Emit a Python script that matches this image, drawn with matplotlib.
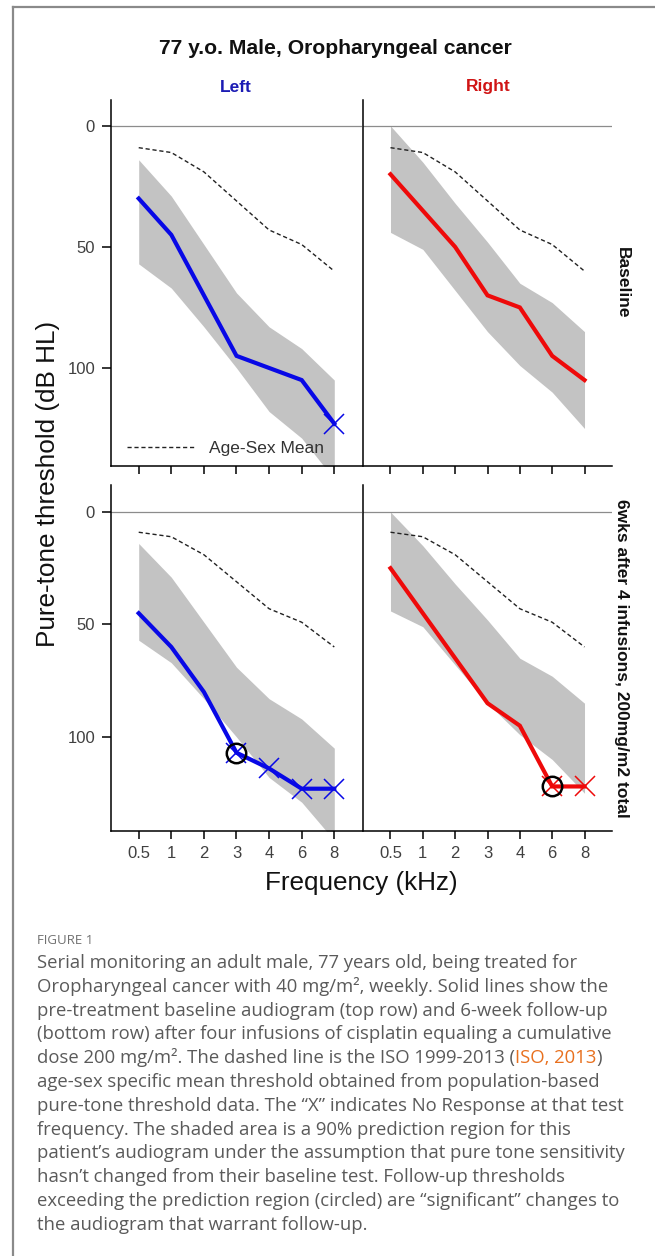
import matplotlib.pyplot as plt
from matplotlib.lines import Line2D

plt.rcParams["font.family"] = ["Liberation Sans", "DejaVu Sans"]

W, H = 655, 1256

# -----------------------------
# Data (dB HL)
# -----------------------------
freqs = ["0.5", "1", "2", "3", "4", "6", "8"]
age_sex_mean = [9, 11, 19, 31, 43, 49, 60]

# 90% prediction region (same for baseline and follow-up rows)
left_band_top = [14, 29, 49, 69, 83, 92, 105]
left_band_bottom = [57, 67, 83, 100, 118, 129, 146]
right_band_top = [0, 15, 32, 48, 65, 73, 85]
right_band_bottom = [44, 51, 68, 85, 99, 110, 125]

left_baseline = [30, 45, 70, 95, 100, 105, 123]
left_baseline_nr = [False, False, False, False, False, False, True]
right_baseline = [20, 35, 50, 70, 75, 95, 105]
right_baseline_nr = [False, False, False, False, False, False, False]

left_followup = [45, 60, 80, 107, 114, 123, 123]
left_followup_nr = [False, False, False, True, True, True, True]
left_followup_sig = [False, False, False, True, False, False, False]
right_followup = [25, 45, 65, 85, 95, 122, 122]
right_followup_nr = [False, False, False, False, False, True, True]
right_followup_sig = [False, False, False, False, False, True, False]

BLUE = "#0808e6"
RED = "#ee0a0a"
BAND = "#c3c3c3"


def box(x0, x1, y0, y1):
    return [x0 / W, 1 - y1 / H, (x1 - x0) / W, (y1 - y0) / H]


def draw_panel(ax, band_top, band_bottom, values, no_resp, sig, color, ylim,
               show_ylabels, show_xlabels):
    x = list(range(len(freqs)))
    ax.fill_between(x, band_top, band_bottom, color=BAND, lw=0, zorder=1)
    ax.axhline(0, color="#8c8c8c", lw=0.9, zorder=1)
    ax.plot(x, age_sex_mean, color="#222222", lw=1.0, ls=(0, (3, 2)), zorder=2,
            label="Age-Sex Mean")
    ax.plot(x, values, color=color, lw=3.0, zorder=3, solid_joinstyle="miter")
    nr_x = [xi for xi, f in zip(x, no_resp) if f]
    nr_y = [v for v, f in zip(values, no_resp) if f]
    ax.plot(nr_x, nr_y, ls="none", marker="x", ms=15, mew=1.1, color=color, zorder=4)
    sig_x = [xi for xi, f in zip(x, sig) if f]
    sig_y = [v for v, f in zip(values, sig) if f]
    ax.plot(sig_x, sig_y, ls="none", marker="o", ms=14, mfc="none", mec="black",
            mew=1.8, zorder=5)

    ax.set_xlim(-0.85, 6.85)
    ax.set_ylim(*ylim)
    ax.spines["top"].set_visible(False)
    ax.spines["right"].set_visible(False)
    ax.spines["left"].set_linewidth(1.1)
    ax.spines["bottom"].set_linewidth(1.1)
    ax.set_xticks(x)
    ax.set_xticklabels(freqs if show_xlabels else [])
    ax.tick_params(axis="x", length=6, width=1.1, pad=5, labelsize=12,
                   labelcolor="#404040")
    if show_ylabels:
        ax.set_yticks([0, 50, 100])
        ax.tick_params(axis="y", length=6.5, width=1.1, pad=5, labelsize=12,
                       labelcolor="#404040")
    else:
        ax.set_yticks([])


fig = plt.figure(figsize=(W / 100, H / 100), dpi=100)

top_ylim = (140.5, -10.7)
bot_ylim = (141.8, -12.0)

ax_tl = fig.add_axes(box(111, 362, 100, 466))
ax_tr = fig.add_axes(box(363, 612, 100, 466))
ax_bl = fig.add_axes(box(111, 362, 485, 831))
ax_br = fig.add_axes(box(363, 612, 485, 831))

draw_panel(ax_tl, left_band_top, left_band_bottom, left_baseline, left_baseline_nr,
           [False] * 7, BLUE, top_ylim, True, False)
draw_panel(ax_tr, right_band_top, right_band_bottom, right_baseline, right_baseline_nr,
           [False] * 7, RED, top_ylim, False, False)
draw_panel(ax_bl, left_band_top, left_band_bottom, left_followup, left_followup_nr,
           left_followup_sig, BLUE, bot_ylim, True, True)
draw_panel(ax_br, right_band_top, right_band_bottom, right_followup, right_followup_nr,
           right_followup_sig, RED, bot_ylim, False, True)

ax_tl.legend(loc="center left", bbox_to_anchor=(16 / 251, 1 - 348 / 366),
             frameon=False, borderpad=0, borderaxespad=0, handlelength=4.0,
             handletextpad=0.75, prop={"size": 12.5}, labelcolor="#333333")

# -----------------------------
# Chart texts
# -----------------------------
fig.text(335 / W, 1 - 48 / H, "77 y.o. Male, Oropharyngeal cancer", ha="center",
         va="center", fontsize=15.2, fontweight="bold", color="#111111")
fig.text(236 / W, 1 - 87 / H, "Left", ha="center", va="center", fontsize=12.5,
         fontweight="bold", color="#1c1cb4")
fig.text(488 / W, 1 - 87 / H, "Right", ha="center", va="center", fontsize=12.5,
         fontweight="bold", color="#d01414")
fig.text(622 / W, 1 - 283 / H, "Baseline", ha="center", va="center", rotation=-90,
         fontsize=12.5, fontweight="bold", color="#111111")
fig.text(621 / W, 1 - 658 / H, "6wks after 4 infusions, 200mg/m2 total", ha="center",
         va="center", rotation=-90, fontsize=12.5, fontweight="bold", color="#111111")
fig.text(48 / W, 1 - 484 / H, "Pure-tone threshold (dB HL)", ha="center", va="center",
         rotation=90, fontsize=18.8, color="#111111")
fig.text(361 / W, 1 - 883 / H, "Frequency (kHz)", ha="center", va="center",
         fontsize=18.8, color="#111111")

# -----------------------------
# Caption
# -----------------------------
caption_lines = [
    "Serial monitoring an adult male, 77 years old, being treated for",
    "Oropharyngeal cancer with 40 mg/m\u00b2, weekly. Solid lines show the",
    "pre-treatment baseline audiogram (top row) and 6-week follow-up",
    "(bottom row) after four infusions of cisplatin equaling a cumulative",
    "dose 200 mg/m\u00b2. The dashed line is the ISO 1999-2013 (",
    "age-sex specific mean threshold obtained from population-based",
    "pure-tone threshold data. The \u201cX\u201d indicates No Response at that test",
    "frequency. The shaded area is a 90% prediction region for this",
    "patient\u2019s audiogram under the assumption that pure tone sensitivity",
    "hasn\u2019t changed from their baseline test. Follow-up thresholds",
    "exceeding the prediction region (circled) are \u201csignificant\u201d changes to",
    "the audiogram that warrant follow-up.",
]
CAP_FONT = ["Open Sans", "DejaVu Sans"]
CAP_COLOR = "#5a5a5a"

fig.text(37 / W, 1 - 944 / H, "FIGURE 1", fontsize=9.5, color="#707070",
         family=CAP_FONT, va="baseline")

renderer = fig.canvas.get_renderer()

# fit the caption size so the first line spans the same width as the original
probe = fig.text(37 / W, 0.5, caption_lines[0], fontsize=12, family=CAP_FONT)
cap_size = 12 * 536 / probe.get_window_extent(renderer).width
probe.remove()

for i, line in enumerate(caption_lines):
    y = 1 - (968 + 23.8 * i) / H
    t = fig.text(37 / W, y, line, fontsize=cap_size, color=CAP_COLOR, family=CAP_FONT,
                 va="baseline")
    if i == 4:
        x1 = t.get_window_extent(renderer).x1 / W
        t2 = fig.text(x1, y, "ISO, 2013", fontsize=cap_size, color="#e8701e",
                      family=CAP_FONT, va="baseline")
        x2 = t2.get_window_extent(renderer).x1 / W
        fig.text(x2, y, ")", fontsize=cap_size, color=CAP_COLOR, family=CAP_FONT,
                 va="baseline")

# card border (top and left edges)
fig.add_artist(Line2D([13 / W, 13 / W], [0, 1 - 7 / H], transform=fig.transFigure,
                      color="#8a8a8a", lw=1.6))
fig.add_artist(Line2D([13 / W, 1], [1 - 7 / H, 1 - 7 / H], transform=fig.transFigure,
                      color="#8a8a8a", lw=1.6))

fig.savefig("out.png", dpi=100)
print("Saved: out.png")
